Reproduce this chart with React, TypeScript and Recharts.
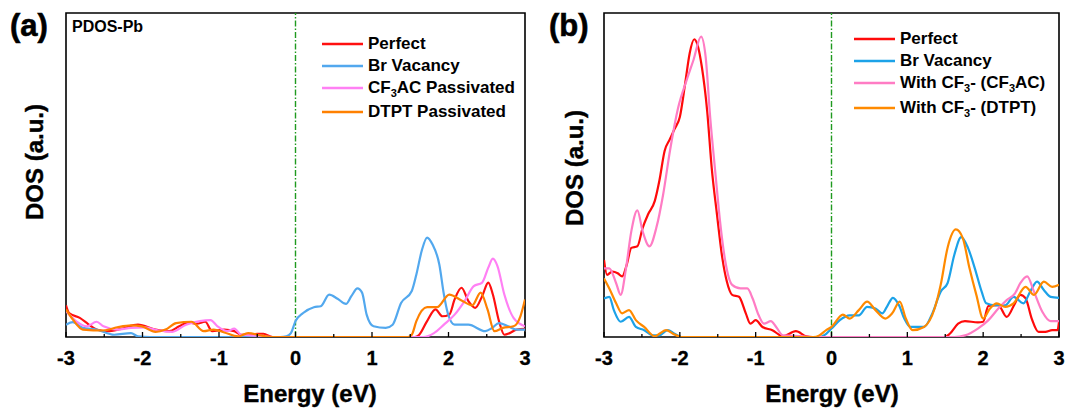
import { LineChart, Line, XAxis, YAxis, ReferenceLine, ReferenceArea, Legend } from 'recharts';

// energy range and ticks
const majorTicks = [-3, -2, -1, 0, 1, 2, 3];
const minorTicks = [-2.5, -1.5, -0.5, 0.5, 1.5, 2.5];
const tickLabels = ['-3', '-2', '-1', '0', '1', '2', '3'];

// panel (a) PDOS-Pb : [energy, dos]
const aPerfect = [
  [-3, 9.8], [-2.96, 7.4], [-2.82, 5.9], [-2.71, 4.0], [-2.6, 2.3], [-2.46, 1.8], [-2.28, 2.5], [-2.06, 3.8],
  [-1.83, 2.3], [-1.65, 1.8], [-1.52, 3.3], [-1.4, 4.5], [-1.29, 4.1], [-1.18, 4.7], [-1.09, 1.8], [-0.93, 2.3],
  [-0.8, 1.8], [-0.71, 0.7], [-0.53, 0.9], [-0.42, 1.0], [-0.3, 0], [1.56, 0], [1.61, 0.5], [1.72, 4.9],
  [1.83, 8.5], [1.92, 6.4], [2.01, 6.9], [2.08, 11.6], [2.17, 15.2], [2.26, 11.1], [2.35, 9.0], [2.44, 12.6],
  [2.52, 16.8], [2.58, 13.1], [2.66, 4.9], [2.73, 0.7], [2.8, 1.2], [2.89, 2.3], [3, 2.5],
];
const aBrVacancy = [
  [-3, 3.8], [-2.91, 4.6], [-2.78, 2.8], [-2.6, 2.3], [-2.37, 0.7], [-2.15, 1.2], [-2.06, 0.2], [-1.9, 0],
  [-0.2, 0], [-0.12, 0.2], [-0.06, 1.2], [0, 4.9], [0.1, 7.4], [0.24, 9.2], [0.33, 9.5], [0.44, 13.1],
  [0.55, 11.8], [0.66, 10.2], [0.73, 12.6], [0.81, 15.0], [0.87, 13.7], [0.93, 6.9], [1.02, 3.3], [1.18, 2.8],
  [1.27, 3.8], [1.38, 10.5], [1.52, 14.2], [1.58, 19.3], [1.65, 26.6], [1.72, 30.7], [1.79, 28.6], [1.88, 22.4],
  [1.94, 13.1], [1.99, 7.4], [2.08, 3.8], [2.26, 3.8], [2.48, 1.8], [2.57, 2.8], [2.66, 4.3], [2.78, 3.3],
  [2.89, 2.3], [3, 2.3],
];
const aCF3AC = [
  [-3, 8.0], [-2.87, 4.9], [-2.73, 3.3], [-2.6, 4.7], [-2.51, 3.3], [-2.33, 2.3], [-2.15, 2.8], [-1.97, 3.0],
  [-1.79, 2.0], [-1.61, 1.6], [-1.43, 3.8], [-1.25, 4.9], [-1.11, 5.2], [-1.02, 3.3], [-0.89, 1.8], [-0.8, 2.6],
  [-0.71, 0.7], [-0.48, 0.4], [-0.3, 0], [1.67, 0], [1.81, 1.2], [1.94, 3.8], [2.08, 6.9], [2.21, 11.1],
  [2.33, 15.7], [2.44, 16.8], [2.52, 21.4], [2.58, 24.2], [2.64, 21.9], [2.73, 13.1], [2.85, 5.9], [3, 3.3],
];
const aDTPT = [
  [-3, 8.5], [-2.91, 5.4], [-2.78, 2.3], [-2.51, 2.0], [-2.33, 3.0], [-2.15, 3.6], [-2.01, 3.3], [-1.83, 1.6],
  [-1.7, 2.3], [-1.56, 4.3], [-1.36, 4.7], [-1.2, 1.8], [-1.07, 2.3], [-0.93, 1.4], [-0.75, 0.2], [-0.62, 1.2],
  [-0.44, 0.4], [-0.3, 0], [1.47, 0], [1.52, 0.7], [1.58, 4.9], [1.72, 9.2], [1.85, 9.2], [2.01, 13.1],
  [2.17, 11.3], [2.31, 9.8], [2.42, 13.7], [2.51, 8.5], [2.6, 1.8], [2.71, 2.8], [2.85, 3.3], [2.94, 6.4], [3, 11.6],
];

// panel (b)
const bPerfect = [
  [-3, 23.8], [-2.96, 19.2], [-2.89, 20.2], [-2.82, 19.7], [-2.76, 18.7], [-2.7, 22.3], [-2.64, 27.5], [-2.56, 28.0],
  [-2.49, 33.7], [-2.42, 37.8], [-2.33, 42.0], [-2.27, 48.2], [-2.2, 57.5], [-2.13, 61.1], [-2.07, 64.2], [-2.0, 67.9],
  [-1.93, 78.2], [-1.87, 87.6], [-1.81, 91.9], [-1.76, 89.6], [-1.71, 83.4], [-1.64, 69.9], [-1.58, 52.3], [-1.51, 37.8],
  [-1.44, 24.4], [-1.38, 17.1], [-1.31, 13.0], [-1.22, 12.4], [-1.13, 7.3], [-1.07, 4.1], [-1.0, 5.2], [-0.91, 3.1],
  [-0.78, 2.1], [-0.64, 0.2], [-0.47, 1.8], [-0.33, 0.2], [-0.25, 0], [1.49, 0], [1.56, 1.0], [1.67, 4.1],
  [1.76, 4.9], [1.93, 4.5], [2.0, 4.7], [2.07, 9.6], [2.2, 9.8], [2.31, 6.2], [2.42, 10.4], [2.49, 13.0],
  [2.56, 11.9], [2.64, 5.7], [2.73, 1.6], [2.82, 1.6], [2.91, 2.1], [2.98, 2.1], [3, 4.7],
];
const bBrVacancy = [
  [-3, 11.9], [-2.93, 12.4], [-2.87, 8.3], [-2.78, 4.7], [-2.67, 6.2], [-2.58, 3.1], [-2.47, 2.1], [-2.36, 0.5],
  [-2.27, 0.5], [-2.16, 2.1], [-2.07, 1.0], [-1.98, 0], [-0.16, 0], [-0.07, 1.0], [0, 2.6], [0.11, 5.2],
  [0.24, 6.7], [0.36, 6.7], [0.47, 9.3], [0.58, 8.8], [0.67, 7.3], [0.73, 9.3], [0.81, 12.1], [0.89, 9.8],
  [0.96, 5.7], [1.04, 3.1], [1.22, 3.1], [1.33, 7.3], [1.44, 14.0], [1.53, 16.6], [1.62, 25.4], [1.71, 30.8],
  [1.8, 27.5], [1.89, 21.2], [1.98, 14.0], [2.04, 10.4], [2.16, 9.8], [2.29, 9.8], [2.4, 12.4], [2.53, 10.4],
  [2.62, 14.0], [2.71, 17.1], [2.8, 14.5], [2.89, 12.4], [3, 12.1],
];
const bCF3AC = [
  [-3, 21.2], [-2.93, 21.2], [-2.84, 16.6], [-2.78, 13.0], [-2.71, 21.2], [-2.64, 32.6], [-2.56, 39.1], [-2.49, 32.6],
  [-2.4, 28.0], [-2.31, 33.7], [-2.22, 44.0], [-2.13, 57.5], [-2.02, 71.0], [-1.91, 79.3], [-1.82, 85.5], [-1.72, 92.7],
  [-1.66, 86.5], [-1.6, 67.9], [-1.53, 50.3], [-1.47, 35.8], [-1.4, 23.3], [-1.31, 16.1], [-1.2, 15.0], [-1.11, 15.0],
  [-1.04, 11.9], [-0.96, 6.7], [-0.89, 4.1], [-0.8, 4.9], [-0.73, 3.1], [-0.64, 0.5], [-0.38, 0.2], [-0.28, 0],
  [1.62, 0], [1.76, 0.5], [1.93, 2.6], [2.07, 5.2], [2.2, 8.8], [2.31, 11.4], [2.42, 13.5], [2.49, 16.6],
  [2.58, 18.7], [2.67, 14.0], [2.78, 7.8], [2.89, 4.9], [3, 4.9],
];
const bDTPT = [
  [-3, 18.1], [-2.93, 15.0], [-2.84, 10.4], [-2.76, 7.3], [-2.67, 8.3], [-2.58, 5.2], [-2.47, 3.1], [-2.33, 0.2],
  [-2.27, 1.0], [-2.18, 2.1], [-2.09, 1.0], [-1.98, 0], [-0.24, 0], [-0.16, 0.5], [-0.07, 2.1], [0, 3.1],
  [0.15, 6.9], [0.24, 5.7], [0.36, 8.3], [0.47, 10.9], [0.58, 8.3], [0.71, 5.7], [0.8, 7.3], [0.9, 10.9],
  [0.98, 5.7], [1.07, 2.1], [1.22, 3.1], [1.36, 8.8], [1.44, 16.1], [1.53, 27.5], [1.64, 33.2], [1.73, 30.6],
  [1.82, 21.2], [1.91, 13.0], [2.0, 5.7], [2.09, 8.8], [2.18, 10.4], [2.29, 9.3], [2.4, 10.4], [2.56, 15.5],
  [2.67, 13.0], [2.8, 17.1], [2.91, 15.5], [3, 16.1],
];

const toRows = (pts: number[][]) => pts.map(([e, d]) => ({ e, d }));

const FONT = '"Liberation Sans", Arial, sans-serif';
const allTicks = [...majorTicks, ...minorTicks].sort((p, q) => p - q);

function Tick(props: any) {
  const { x, y, payload } = props;
  const i = majorTicks.indexOf(payload.value);
  const major = i >= 0;
  return (
    <g>
      <line x1={x} x2={x} y1={y} y2={y - (major ? 5 : 3)} stroke="#000" strokeWidth={1.3} />
      {major && (
        <text x={x} y={y + 28} textAnchor="middle" fontFamily={FONT} fontWeight="bold" fontSize={20} fill="#000"
          stroke="#000" strokeWidth={0.3}>
          {tickLabels[i]}
        </text>
      )}
    </g>
  );
}

type Item = { name: any; color: string; y: number };

function LegendBox({ items, top }: { items: Item[]; top: number }) {
  return (
    <div style={{ position: 'relative', width: 220, height: 100 }}>
      {items.map((it, k) => (
        <div key={k} style={{ position: 'absolute', left: 0, top: it.y - top - 11, height: 22, display: 'flex', alignItems: 'center', whiteSpace: 'nowrap' }}>
          <svg width={41} height={4} style={{ display: 'block' }}>
            <line x1={0} x2={41} y1={2} y2={2} stroke={it.color} strokeWidth={2.5} />
          </svg>
          <span style={{ marginLeft: 5, fontFamily: FONT, fontWeight: 'bold', fontSize: 17, lineHeight: '22px', color: '#000' }}>{it.name}</span>
        </div>
      ))}
    </div>
  );
}

const sub3 = <sub style={{ fontSize: 11, lineHeight: 0, verticalAlign: -4 }}>3</sub>;

const panelA = {
  series: [
    { name: 'Perfect', data: aPerfect, color: '#ff1010' },
    { name: 'Br Vacancy', data: aBrVacancy, color: '#52a8ee' },
    { name: 'CF3AC Passivated', data: aCF3AC, color: '#ff80f4' },
    { name: 'DTPT Passivated', data: aDTPT, color: '#ff8000' },
  ],
};
const panelB = {
  series: [
    { name: 'Perfect', data: bPerfect, color: '#ff0a0a' },
    { name: 'Br Vacancy', data: bBrVacancy, color: '#1ca2e8' },
    { name: 'With CF3- (CF3AC)', data: bCF3AC, color: '#ff7cc4' },
    { name: 'With CF3- (DTPT)', data: bDTPT, color: '#ff8a00' },
  ],
};

function Panel({ panel, width, margin, legendLeft, legendTop, legendItems }: any) {
  return (
    <LineChart width={width} height={412} margin={margin}>
      <XAxis
        type="number"
        dataKey="e"
        domain={[-3, 3]}
        ticks={allTicks}
        interval={0}
        tickSize={0}
        tickMargin={0}
        axisLine={false}
        tickLine={false}
        height={30}
        tick={<Tick />}
        allowDataOverflow
      />
      <YAxis type="number" dataKey="d" domain={[0, 100]} hide allowDataOverflow />
      <ReferenceArea x1={-3} x2={3} y1={0} y2={100} fill="none" stroke="#000" strokeWidth={1.6} ifOverflow="visible" />
      <ReferenceLine x={0} stroke="#1f9a1f" strokeWidth={1.4} strokeDasharray="6 2 1.5 2" />
      {panel.series.map((s: any) => (
        <Line
          key={s.name}
          data={toRows(s.data)}
          dataKey="d"
          name={s.name}
          type="monotone"
          stroke={s.color}
          strokeWidth={2.2}
          dot={false}
          activeDot={false}
          isAnimationActive={false}
        />
      ))}
      <Legend
        layout="vertical"
        align="center"
        verticalAlign="middle"
        wrapperStyle={{ left: legendLeft, top: legendTop, width: 220, height: 100 }}
        content={() => <LegendBox items={legendItems} top={legendTop} />}
      />
    </LineChart>
  );
}

export default function App() {
  const legendA: Item[] = [
    { name: 'Perfect', color: panelA.series[0].color, y: 44 },
    { name: 'Br Vacancy', color: panelA.series[1].color, y: 66 },
    { name: <>CF{sub3}AC Passivated</>, color: panelA.series[2].color, y: 88 },
    { name: 'DTPT Passivated', color: panelA.series[3].color, y: 112 },
  ];
  const legendB: Item[] = [
    { name: 'Perfect', color: panelB.series[0].color, y: 39 },
    { name: 'Br Vacancy', color: panelB.series[1].color, y: 61 },
    { name: <>With CF{sub3}- (CF{sub3}AC)</>, color: panelB.series[2].color, y: 83 },
    { name: <>With CF{sub3}- (DTPT)</>, color: panelB.series[3].color, y: 108 },
  ];
  const bold = { fontFamily: FONT, fontWeight: 'bold' as const, fill: '#000' };
  return (
    <div style={{ position: 'absolute', left: 0, top: 0, width: 1069, height: 412, background: '#fff' }}>
      <div style={{ position: 'absolute', left: 0, top: 0 }}>
        <Panel panel={panelA} width={540} margin={{ top: 13, right: 15, bottom: 45, left: 66 }}
          legendLeft={322} legendTop={30} legendItems={legendA} />
      </div>
      <div style={{ position: 'absolute', left: 540, top: 0 }}>
        <Panel panel={panelB} width={529} margin={{ top: 13, right: 10, bottom: 45, left: 64 }}
          legendLeft={314} legendTop={25} legendItems={legendB} />
      </div>
      <svg width={1069} height={412} style={{ position: 'absolute', left: 0, top: 0, pointerEvents: 'none' }}>
        <text x={10} y={36} fontSize={31} stroke="#000" strokeWidth={0.6} {...bold}>(a)</text>
        <text x={549} y={36} fontSize={31} stroke="#000" strokeWidth={0.6} {...bold}>(b)</text>
        <text x={72} y={32} fontSize={16} {...bold}>PDOS-Pb</text>
        <text x={310} y={402} fontSize={24} textAnchor="middle" stroke="#000" strokeWidth={0.4} {...bold}>Energy (eV)</text>
        <text x={832} y={402} fontSize={24} textAnchor="middle" stroke="#000" strokeWidth={0.4} {...bold}>Energy (eV)</text>
        <text transform="translate(43,162) rotate(-90)" fontSize={24} textAnchor="middle" stroke="#000" strokeWidth={0.4} {...bold}>DOS (a.u.)</text>
        <text transform="translate(583,168) rotate(-90)" fontSize={24} textAnchor="middle" stroke="#000" strokeWidth={0.4} {...bold}>DOS (a.u.)</text>
      </svg>
    </div>
  );
}
